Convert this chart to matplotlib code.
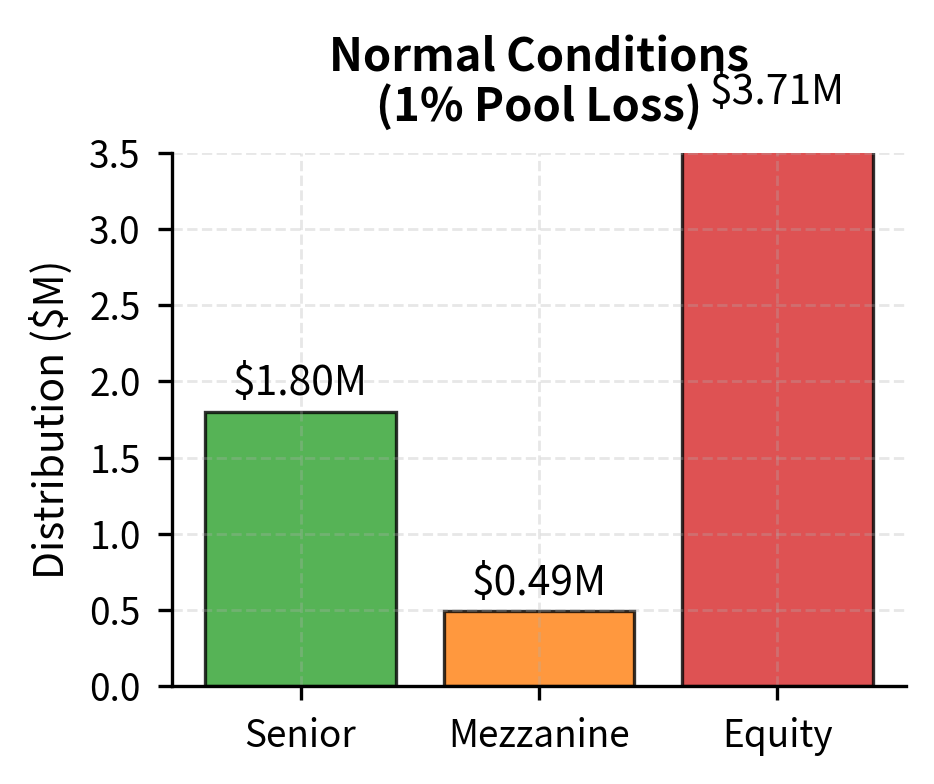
import matplotlib
matplotlib.use("Agg")
import matplotlib.pyplot as plt

plt.rcParams['font.family'] = ['Noto Sans CJK SC', 'DejaVu Sans']

tranches = ["Senior", "Mezzanine", "Equity"]
values = [1.80, 0.49, 3.71]
colors = ["#2ca02c", "#ff7f0e", "#d62728"]
labels = ["$1.80M", "$0.49M", "$3.71M"]

fig, ax = plt.subplots(figsize=(4.67, 3.92), dpi=200)
bars = ax.bar(tranches, values, color=colors, alpha=0.8, edgecolor="black", linewidth=1.2)
for b, v, t in zip(bars, values, labels):
    ax.text(b.get_x() + b.get_width() / 2, v + 0.05, t, ha="center", va="bottom", fontsize=14.7)
ax.set_ylim(0, 3.5)
ax.set_ylabel("Distribution ($M)", fontsize=14.7, labelpad=6)
ax.set_title("Normal Conditions\n(1% Pool Loss)", fontsize=16.3, fontweight="bold",
             pad=11.5, linespacing=1.08)
ax.grid(True, linestyle="--", alpha=0.3, linewidth=1.0)
ax.spines["top"].set_visible(False)
ax.spines["right"].set_visible(False)
for s in ("left", "bottom"):
    ax.spines[s].set_linewidth(1.2)
ax.tick_params(labelsize=13.3, length=5.2, width=1.2, pad=6)
fig.subplots_adjust(left=0.184, right=0.970, top=0.805, bottom=0.125)
fig.savefig("out.png", dpi=200)
